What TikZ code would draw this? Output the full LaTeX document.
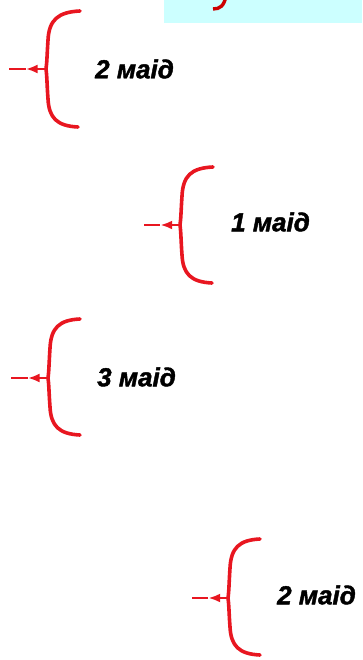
\documentclass[tikz,border=0pt]{standalone}
\usepackage{fontspec}
\usepackage{xcolor}
\usepackage{tikz}
\usetikzlibrary{arrows.meta}
\newfontfamily\labelfont[BoldItalicFeatures={FakeBold=1.6}]{Liberation Sans}
\definecolor{cBrace}{RGB}{232,22,32}
\definecolor{cTitle}{RGB}{204,0,0}
\definecolor{cBox}{RGB}{204,255,255}

\begin{document}
\begin{tikzpicture}[x=1pt,y=-1pt,
  brace/.style={cBrace,line width=3.6pt,line cap=round},
  stem/.style={cBrace,line width=2.6pt},
  head/.style={stem,-{Latex[length=12pt,width=9pt]}},
  count/.style={anchor=west,inner sep=0pt,font=\labelfont\bfseries\itshape\fontsize{26}{28}\selectfont}]
 \useasboundingbox (0,0) rectangle (362,660);
 % ---- title strip (cut off at the top) ----
 \fill[cBox] (164,0) rectangle (362,23);
 \begin{scope}
   \clip (0,0) rectangle (362,660);
   \draw[cTitle,line width=3.4pt] (226,-4) .. controls (224,6) and (220,9) .. (213,9);
   \draw[cTitle,line width=1pt] (274,0) -- (279,0);
 \end{scope}
 % ---- first group ----
 \draw[brace] (80,11) .. controls (58,12) and (49,20) .. (48,40)
   .. controls (47,55) and (47,62) .. (46,69) coordinate (m1)
   .. controls (47,76) and (47,86) .. (48,99)
   .. controls (49,118) and (57,126) .. (78,127);
 \coordinate (a1) at (9,69);
 \path (m1) -- (a1) coordinate[pos=0.55] (h1);
 \draw[head] (m1) -- (h1);
 \draw[stem] (h1) -- (a1);
 \node[count] (lbl1) at (95,69) {2 маід};
 % ---- second group ----
 \draw[brace] (213,167) .. controls (191,168) and (183,176) .. (182,196)
   .. controls (181,211) and (181,218) .. (180,225) coordinate (m2)
   .. controls (181,232) and (181,242) .. (182,255)
   .. controls (183,274) and (191,282) .. (212,283);
 \coordinate (a2) at (144,225);
 \path (m2) -- (a2) coordinate[pos=0.55] (h2);
 \draw[head] (m2) -- (h2);
 \draw[stem] (h2) -- (a2);
 \node[count] (lbl2) at (231,222) {1 маід};
 % ---- third group ----
 \draw[brace] (80,319) .. controls (59,320) and (51,328) .. (50,348)
   .. controls (49,363) and (49,371) .. (48,378) coordinate (m3)
   .. controls (49,385) and (49,394) .. (50,407)
   .. controls (51,426) and (59,434) .. (80,435);
 \coordinate (a3) at (11,378);
 \path (m3) -- (a3) coordinate[pos=0.55] (h3);
 \draw[head] (m3) -- (h3);
 \draw[stem] (h3) -- (a3);
 \node[count] (lbl3) at (97,377) {3 маід};
 % ---- fourth group ----
 \draw[brace] (260,539) .. controls (239,540) and (231,548) .. (230,568)
   .. controls (229,583) and (229,591) .. (228,598) coordinate (m4)
   .. controls (229,605) and (229,614) .. (230,627)
   .. controls (231,646) and (239,654) .. (260,655);
 \coordinate (a4) at (192,598);
 \path (m4) -- (a4) coordinate[pos=0.55] (h4);
 \draw[head] (m4) -- (h4);
 \draw[stem] (h4) -- (a4);
 \node[count] (lbl4) at (277,595) {2 маід};
\end{tikzpicture}
\end{document}
